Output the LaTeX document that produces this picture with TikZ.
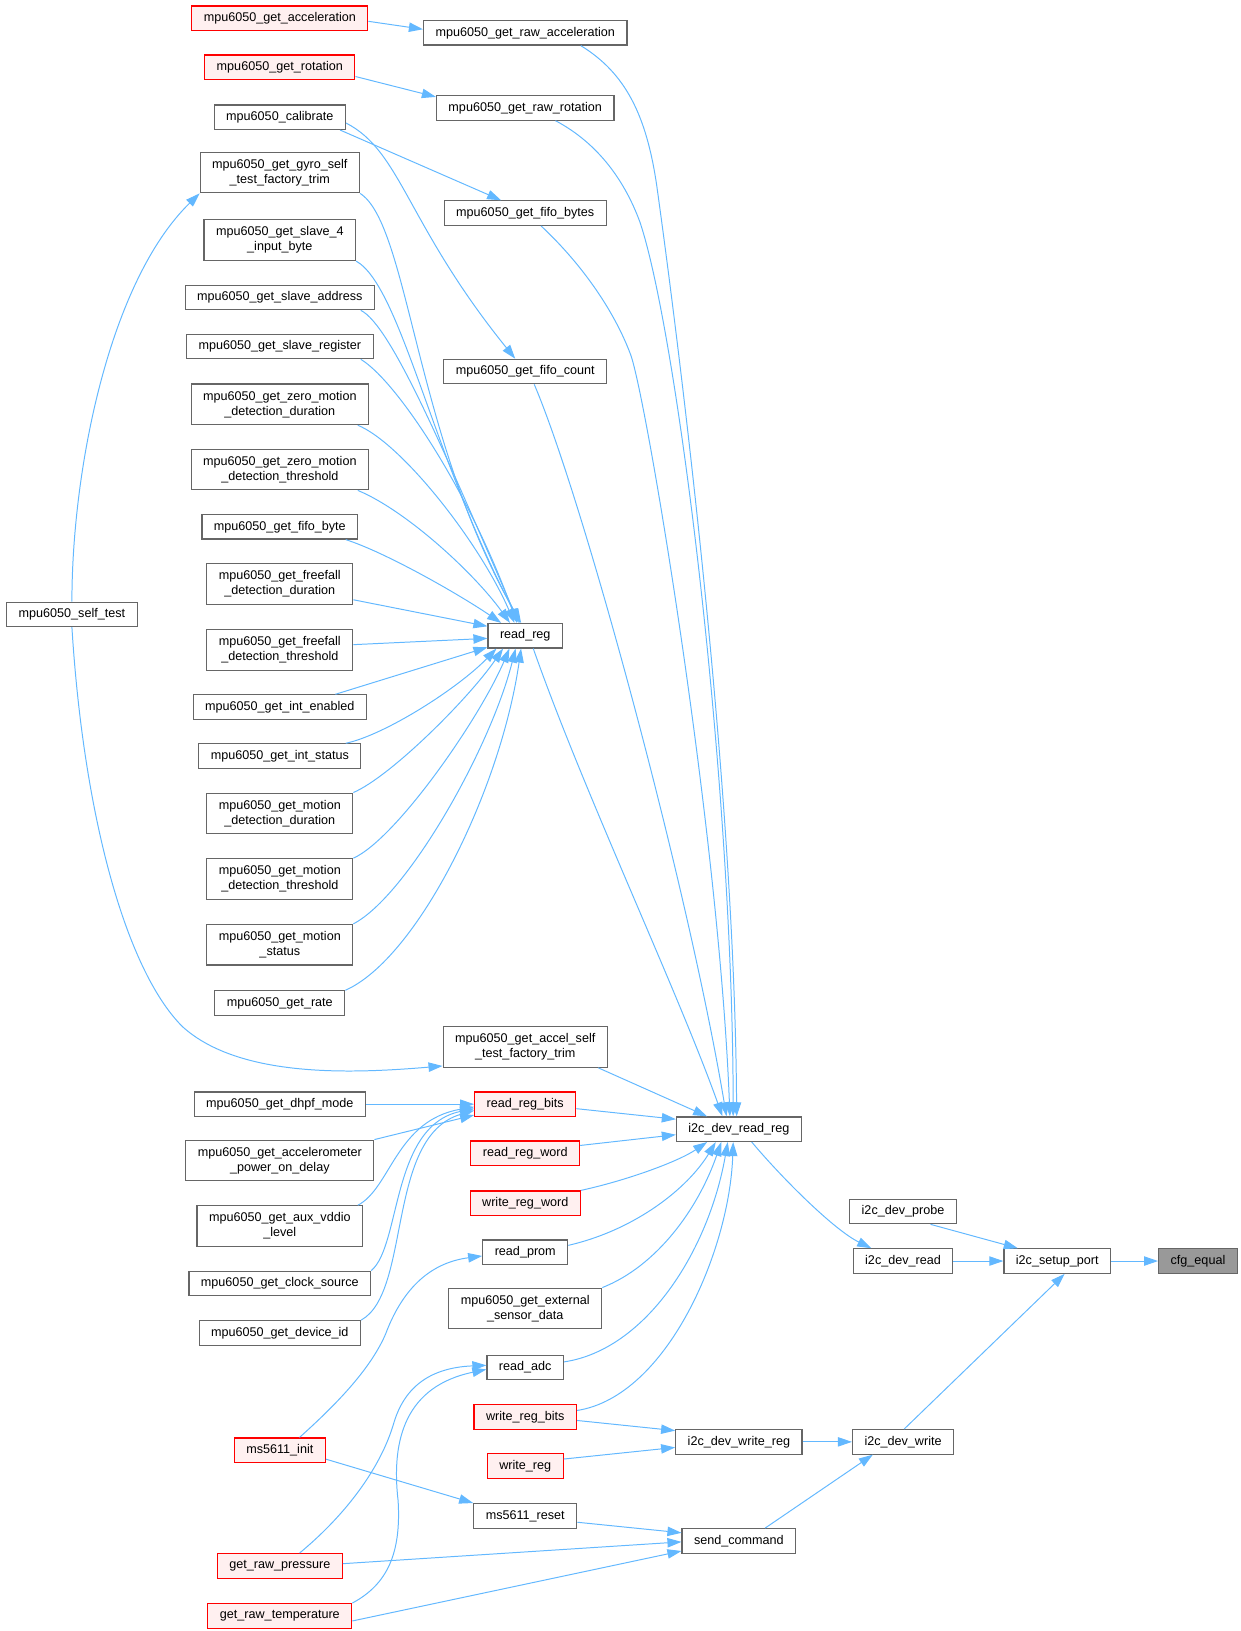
\documentclass[tikz,border=0pt]{standalone}
\usepackage{fontspec}
\setmainfont{Liberation Sans}
\usetikzlibrary{arrows.meta}
\definecolor{borde}{HTML}{666666}
\definecolor{azul}{HTML}{63B8FF}
\definecolor{rosado}{HTML}{FFF0F0}
\definecolor{raiz}{HTML}{999999}
\begin{document}
\begin{tikzpicture}[x=1pt,y=-1pt,
	fn/.style={draw=borde, fill=white, line width=1.1pt, inner xsep=11.5pt, inner ysep=0pt, minimum height=23.5pt, align=center, font=\fontsize{12.1}{14.4}\selectfont},
	dos/.style={minimum height=39pt},
	fnrojo/.style={fn, draw=red, fill=rosado},
	fnraiz/.style={fn, fill=raiz},
	flecha/.style={draw=azul, line width=0.95pt, -{Triangle[length=13.5pt,width=9pt]}}]
		% Marco
			\useasboundingbox (0,0) rectangle (1190,1565);

		% Columna 1
			\node[fn] (selftest) at (69,589.5) {mpu6050\_self\_test};

		% Columna 2
			\node[fnrojo] (acc) at (268.5,17.5) {mpu6050\_get\_acceleration};
			\node[fnrojo] (rot) at (268.5,64.5) {mpu6050\_get\_rotation};
			\node[fn] (calib) at (268.5,112.5) {mpu6050\_calibrate};
			\node[fn, dos] (gyro) at (268.5,165.5) {mpu6050\_get\_gyro\_self\\\_test\_factory\_trim};
			\node[fn, dos] (slave4) at (268.5,230.5) {mpu6050\_get\_slave\_4\\\_input\_byte};
			\node[fn] (slaveaddr) at (268.5,285.5) {mpu6050\_get\_slave\_address};
			\node[fn] (slavereg) at (268.5,332.5) {mpu6050\_get\_slave\_register};
			\node[fn, dos] (zmdur) at (268.5,388) {mpu6050\_get\_zero\_motion\\\_detection\_duration};
			\node[fn, dos] (zmthr) at (268.5,450.5) {mpu6050\_get\_zero\_motion\\\_detection\_threshold};
			\node[fn] (fifobyte) at (268.5,505.5) {mpu6050\_get\_fifo\_byte};
			\node[fn, dos] (ffdur) at (268.5,560.5) {mpu6050\_get\_freefall\\\_detection\_duration};
			\node[fn, dos] (ffthr) at (268.5,623.5) {mpu6050\_get\_freefall\\\_detection\_threshold};
			\node[fn] (intena) at (268.5,678.5) {mpu6050\_get\_int\_enabled};
			\node[fn] (intstat) at (268.5,725.5) {mpu6050\_get\_int\_status};
			\node[fn, dos] (mdur) at (268.5,780.5) {mpu6050\_get\_motion\\\_detection\_duration};
			\node[fn, dos] (mthr) at (268.5,843.5) {mpu6050\_get\_motion\\\_detection\_threshold};
			\node[fn, dos] (mstat) at (268.5,906.5) {mpu6050\_get\_motion\\\_status};
			\node[fn] (rate) at (268.5,962.5) {mpu6050\_get\_rate};
			\node[fn] (dhpf) at (268.5,1059.5) {mpu6050\_get\_dhpf\_mode};
			\node[fn, dos] (accpow) at (268.5,1113.5) {mpu6050\_get\_accelerometer\\\_power\_on\_delay};
			\node[fn, dos] (vddio) at (268.5,1176.5) {mpu6050\_get\_aux\_vddio\\\_level};
			\node[fn] (clksrc) at (268.5,1231.5) {mpu6050\_get\_clock\_source};
			\node[fn] (devid) at (268.5,1279) {mpu6050\_get\_device\_id};
			\node[fnrojo] (msinit) at (268.5,1391.5) {ms5611\_init};
			\node[fnrojo] (rawpres) at (268.5,1502.5) {get\_raw\_pressure};
			\node[fnrojo] (rawtemp) at (268.5,1550.5) {get\_raw\_temperature};

		% Columna 3
			\node[fn] (rawacc) at (504,31.5) {mpu6050\_get\_raw\_acceleration};
			\node[fn] (rawrot) at (504,103.5) {mpu6050\_get\_raw\_rotation};
			\node[fn] (fifobytes) at (504,204.5) {mpu6050\_get\_fifo\_bytes};
			\node[fn] (fifocount) at (504,356.5) {mpu6050\_get\_fifo\_count};
			\node[fn] (readreg) at (504,610) {read\_reg};
			\node[fn, dos] (accself) at (504,1004.5) {mpu6050\_get\_accel\_self\\\_test\_factory\_trim};
			\node[fnrojo] (rrbits) at (504,1059.5) {read\_reg\_bits};
			\node[fnrojo] (rrword) at (504,1106.5) {read\_reg\_word};
			\node[fnrojo] (wrword) at (504,1154.5) {write\_reg\_word};
			\node[fn] (rprom) at (504,1201.5) {read\_prom};
			\node[fn, dos] (extsens) at (504,1255.5) {mpu6050\_get\_external\\\_sensor\_data};
			\node[fn] (radc) at (504,1312) {read\_adc};
			\node[fnrojo] (wrbits) at (504,1359.5) {write\_reg\_bits};
			\node[fnrojo] (wreg) at (504,1406.5) {write\_reg};
			\node[fn] (msreset) at (504,1454.5) {ms5611\_reset};

		% Columnas 4 a 7
			\node[fn] (devrr) at (709,1083.5) {i2c\_dev\_read\_reg};
			\node[fn] (devwr) at (709,1383.5) {i2c\_dev\_write\_reg};
			\node[fn] (sendcmd) at (709,1478.5) {send\_command};
			\node[fn] (probe) at (866.5,1162.5) {i2c\_dev\_probe};
			\node[fn] (devread) at (866.5,1210) {i2c\_dev\_read};
			\node[fn] (devwrite) at (866.5,1383.5) {i2c\_dev\_write};
			\node[fn] (setup) at (1014.5,1210) {i2c\_setup\_port};
			\node[fnraiz] (cfg) at (1149.5,1210) {cfg\_equal};

		% Flechas arriba
			\draw[flecha] (acc.-2) -- (rawacc.178);
			\draw[flecha] (rot.-7) -- (rawrot.173);
			\draw[flecha] (calib.-12) -- (fifobytes.152);
			\draw[flecha] (calib.-5) .. controls (385,145) and (390,215) .. (fifocount.128);
			\draw[flecha] (selftest.north) .. controls (69,450) and (105,270) .. (gyro.south west);
			\draw[flecha] (selftest.south) .. controls (80,780) and (120,930) .. (175,985) .. controls (230,1035) and (340,1030) .. (accself.193);

		% Flechas a read_reg
			\draw[flecha] (gyro.south east) .. controls (392,215) and (398,420) .. (readreg.108);
			\draw[flecha] (slave4.south east) .. controls (385,275) and (415,440) .. (readreg.112);
			\draw[flecha] (slaveaddr.-9) .. controls (375,312) and (425,430) .. (readreg.117);
			\draw[flecha] (slavereg.-9) .. controls (380,365) and (450,470) .. (readreg.123);
			\draw[flecha] (zmdur.-15) .. controls (385,425) and (460,520) .. (readreg.130);
			\draw[flecha] (zmthr.-15) .. controls (390,490) and (455,550) .. (readreg.140);
			\draw[flecha] (fifobyte.-11) .. controls (370,530) and (440,570) .. (readreg.152);
			\draw[flecha] (ffdur.-12) -- (readreg.166);
			\draw[flecha] (ffthr.4) -- (readreg.184);
			\draw[flecha] (intena.13) -- (readreg.197);
			\draw[flecha] (intstat.11) .. controls (370,705) and (440,660) .. (readreg.204);
			\draw[flecha] (mdur.north east) .. controls (375,745) and (450,670) .. (readreg.210);
			\draw[flecha] (mthr.north east) .. controls (380,805) and (460,690) .. (readreg.219);
			\draw[flecha] (mstat.north east) .. controls (390,860) and (470,720) .. (readreg.233);
			\draw[flecha] (rate.north east) .. controls (400,920) and (480,760) .. (readreg.252);

		% Flechas a read_reg_bits
			\draw[flecha] (dhpf.east) -- (rrbits.west);
			\draw[flecha] (accpow.north east) -- (rrbits.192);
			\draw[flecha] (vddio.15) .. controls (375,1140) and (380,1075) .. (rrbits.183);
			\draw[flecha] (clksrc.north east) .. controls (385,1195) and (375,1080) .. (rrbits.185);
			\draw[flecha] (devid.north east) .. controls (395,1240) and (370,1090) .. (rrbits.187);

		% Flechas a i2c_dev_read_reg
			\draw[flecha] (rawacc.-13) .. controls (600,70) and (620,110) .. (630,177) .. controls (650,320) and (705,750) .. (devrr.100);
			\draw[flecha] (rawrot.-23) .. controls (575,138) and (600,175) .. (614,213) .. controls (650,320) and (703,750) .. (devrr.114);
			\draw[flecha] (fifobytes.-39) .. controls (560,255) and (590,300) .. (605,340) .. controls (620,380) and (690,800) .. (devrr.125);
			\draw[flecha] (fifocount.-55) .. controls (560,480) and (660,850) .. (devrr.134);
			\draw[flecha] (readreg.-58) .. controls (560,760) and (650,950) .. (devrr.142);
			\draw[flecha] (accself.-16) -- (devrr.158);
			\draw[flecha] (rrbits.-5) -- (devrr.171);
			\draw[flecha] (rrword.8) -- (devrr.185);
			\draw[flecha] (wrword.north east) .. controls (600,1133) and (650,1115) .. (devrr.202);
			\draw[flecha] (rprom.9) .. controls (610,1180) and (660,1140) .. (devrr.209);
			\draw[flecha] (extsens.north east) .. controls (630,1215) and (670,1160) .. (devrr.216);
			\draw[flecha] (radc.8) .. controls (620,1295) and (680,1200) .. (devrr.229);
			\draw[flecha] (wrbits.7) .. controls (640,1340) and (700,1200) .. (devrr.246);

		% Flechas abajo
			\draw[flecha] (msinit.33) .. controls (320,1350) and (355,1315) .. (370,1280) .. controls (385,1240) and (410,1212) .. (rprom.185);
			\draw[flecha] (msinit.-11) -- (msreset.north west);
			\draw[flecha] (rawpres.33) .. controls (330,1455) and (365,1410) .. (378,1365) .. controls (390,1325) and (420,1312) .. (radc.177);
			\draw[flecha] (rawtemp.north east) .. controls (372,1520) and (385,1490) .. (382,1440) .. controls (375,1380) and (390,1330) .. (radc.183);
			\draw[flecha] (msreset.-7) -- (sendcmd.172);
			\draw[flecha] (rawpres.2) -- (sendcmd.181);
			\draw[flecha] (rawtemp.-4) -- (sendcmd.190);
			\draw[flecha] (wrbits.-4) -- (devwr.170);
			\draw[flecha] (wreg.10) -- (devwr.185);

		% Flechas a la derecha
			\draw[flecha] (devrr.-45) .. controls (750,1130) and (800,1180) .. (devread.158);
			\draw[flecha] (devwr.east) -- (devwrite.west);
			\draw[flecha] (sendcmd.26) -- (devwrite.203);
			\draw[flecha] (probe.-25) -- (setup.162);
			\draw[flecha] (devread.east) -- (setup.west);
			\draw[flecha] (devwrite.85) -- (setup.300);
			\draw[flecha] (setup.east) -- (cfg.west);
\end{tikzpicture}
\end{document}
